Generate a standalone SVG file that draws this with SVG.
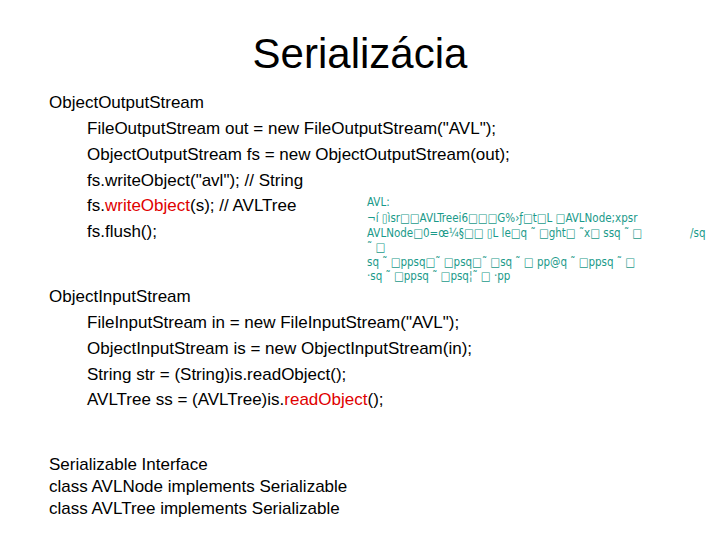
<svg xmlns="http://www.w3.org/2000/svg" width="720" height="540" viewBox="0 0 720 540">
<style>
text{font-family:"Liberation Sans",Arial,sans-serif}
.t{font-size:17px;fill:#000}
.r{fill:#e00000}
.b{font-size:11.5px;fill:#1a9a8a;font-family:"DejaVu Sans Condensed","Liberation Sans",sans-serif}
</style>
<rect width="720" height="540" fill="#fff"/>
<text x="360" y="68" font-size="42" text-anchor="middle" fill="#000">Serializácia</text>
<g>
<text x="49" y="108" class="t">ObjectOutputStream</text>
<text x="87" y="134" class="t">FileOutputStream out = new FileOutputStream("AVL");</text>
<text x="87" y="160" class="t">ObjectOutputStream fs = new ObjectOutputStream(out);</text>
<text x="87" y="186" class="t">fs.writeObject("avl");  // String</text>
<text x="87" y="211" class="t">fs.<tspan class="r">writeObject</tspan>(s); // AVLTree</text>
<text x="87" y="237" class="t">fs.flush();</text>
<text x="49" y="302" class="t">ObjectInputStream</text>
<text x="87" y="328" class="t">FileInputStream in = new FileInputStream("AVL");</text>
<text x="87" y="354" class="t">ObjectInputStream is = new ObjectInputStream(in);</text>
<text x="87" y="380" class="t">String str = (String)is.readObject();</text>
<text x="87" y="405" class="t">AVLTree ss = (AVLTree)is.<tspan class="r">readObject</tspan>();</text>
<text x="49" y="470" class="t">Serializable Interface</text>
<text x="49" y="492" class="t">class AVLNode  implements Serializable</text>
<text x="49" y="514" class="t">class AVLTree implements Serializable</text>
</g>
<g>
<text x="367" y="206" class="b">AVL:</text>
<text x="367" y="222" class="b">¬í ▯ìsr□□AVLTreei6□□□G%›ƒ□t□L □AVLNode;xpsr</text>
<text x="367" y="237" class="b">AVLNode□0=œ¼§□□ ▯L le□q ˜ □ght□ ˜x□ ssq ˜ □</text>
<text x="690" y="237" class="b">/sq</text>
<text x="367" y="251" class="b">˜ □</text>
<text x="367" y="266" class="b">sq ˜ □ppsq□˜ □psq□˜ □sq ˜ □ pp@q ˜ □ppsq ˜ □</text>
<text x="367" y="280" class="b">·sq ˜ □ppsq ˜ □psq¦˜ □     ·pp</text>
</g>
</svg>
